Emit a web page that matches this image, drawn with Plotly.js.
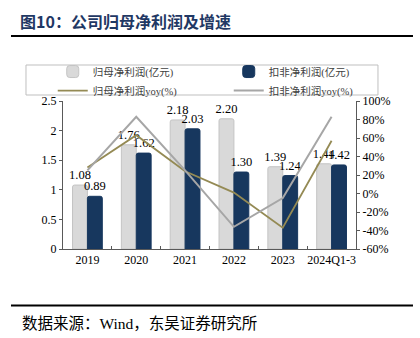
<!DOCTYPE html>
<html>
<head>
<meta charset="utf-8">
<script src="https://cdn.plot.ly/plotly-3.0.1.min.js"></script>
<style>html,body{margin:0;padding:0;background:#fff;}#chart{width:420px;height:338px;}</style>
</head>
<body>
<div id="chart"></div>
<script>
const categories = ["2019", "2020", "2021", "2022", "2023", "2024Q1-3"];
const netProfit = [1.08, 1.76, 2.18, 2.20, 1.39, 1.44];
const deductedProfit = [0.89, 1.62, 2.03, 1.30, 1.24, 1.42];
const netProfitYoy = [28, 63, 24, 1, -37, 57];
const deductedProfitYoy = [25, 83, 25, -36, -5, 83];
const leftTicks = [0, 0.5, 1, 1.5, 2, 2.5];
const rightTicks = [-60, -40, -20, 0, 20, 40, 60, 80, 100];

const FONT = "'Liberation Serif', 'Noto Sans CJK SC', serif";

const traces = [
  {
    type: 'bar', name: '归母净利润(亿元)', x: categories, y: netProfit,
    marker: {color: '#d9d9d9', line: {color: '#c4c4c4', width: 1}, cornerradius: 2},
    text: netProfit.map(v => v.toFixed(2)), textposition: 'outside',
    textfont: {family: FONT, size: 12.5, color: '#000'}, cliponaxis: false,
    constraintext: 'none', hoverinfo: 'skip'
  },
  {
    type: 'bar', name: '扣非净利润(亿元)', x: categories, y: deductedProfit,
    marker: {color: '#17375e', line: {color: '#17375e', width: 1}, cornerradius: 2},
    text: deductedProfit.map(v => v.toFixed(2)), textposition: 'outside',
    textfont: {family: FONT, size: 12.5, color: '#000'}, cliponaxis: false,
    constraintext: 'none', hoverinfo: 'skip'
  },
  {
    type: 'scatter', mode: 'lines', name: '归母净利润yoy(%)', x: categories, y: netProfitYoy,
    yaxis: 'y2', line: {color: '#948a54', width: 1.8}, hoverinfo: 'skip'
  },
  {
    type: 'scatter', mode: 'lines', name: '扣非净利润yoy(%)', x: categories, y: deductedProfitYoy,
    yaxis: 'y2', line: {color: '#a6a6a6', width: 2}, hoverinfo: 'skip'
  }
];

const layout = {
  width: 420, height: 338,
  margin: {l: 63, r: 64, t: 101, b: 89},
  paper_bgcolor: '#fff', plot_bgcolor: '#fff',
  font: {family: FONT, size: 12, color: '#000'},
  barmode: 'group', bargap: 0.39, bargroupgap: 0,
  showlegend: true,
  legend: {
    orientation: 'h', x: -0.035, xanchor: 'left', y: 1.297, yanchor: 'top',
    entrywidth: 131, entrywidthmode: 'pixels', tracegroupgap: 0,
    font: {family: FONT, size: 10.5, color: '#404040'},
    bgcolor: 'rgba(0,0,0,0)', borderwidth: 0, traceorder: 'normal'
  },
  title: {
    text: '<b>图10：公司归母净利润及增速</b>',
    x: 20/420, xanchor: 'left', xref: 'container',
    y: 1 - 22/338, yanchor: 'middle', yref: 'container',
    font: {family: "'Noto Sans CJK SC', 'Liberation Serif', serif", size: 16, color: '#1f3864'}
  },
  xaxis: {
    type: 'category', showline: true, linecolor: '#595959', linewidth: 1,
    ticks: 'inside', tickson: 'boundaries', ticklen: 3, tickcolor: '#595959',
    showgrid: false, zeroline: false, tickangle: 0,
    tickfont: {family: FONT, size: 12, color: '#000'}
  },
  yaxis: {
    range: [0, 2.5], tickvals: leftTicks, ticktext: leftTicks.map(String),
    showline: true, linecolor: '#595959', ticks: 'outside', ticklen: 3, tickcolor: '#595959',
    showgrid: false, zeroline: false,
    tickfont: {family: FONT, size: 12, color: '#000'}
  },
  yaxis2: {
    range: [-60, 100], overlaying: 'y', side: 'right',
    tickvals: rightTicks, ticktext: rightTicks.map(v => v + '%'),
    showline: true, linecolor: '#595959', ticks: 'outside', ticklen: 3, tickcolor: '#595959',
    showgrid: false, zeroline: false,
    tickfont: {family: FONT, size: 12, color: '#000'}
  },
  shapes: [
    {type: 'line', xref: 'paper', yref: 'paper', x0: -0.1775, x1: 1.1945, y0: 1.4392, y1: 1.4392,
     line: {color: '#000', width: 2}},
    {type: 'line', xref: 'paper', yref: 'paper', x0: -0.1775, x1: 1.1945, y0: -0.3818, y1: -0.3818,
     line: {color: '#000', width: 2}},
    {type: 'rect', xref: 'paper', yref: 'paper', x0: -0.1263, x1: 1.075, y0: 1.0405, y1: 1.2432,
     line: {color: '#bfbfbf', width: 1}, fillcolor: 'rgba(0,0,0,0)'}
  ],
  annotations: [
    {text: '数据来源：Wind，东吴证券研究所', xref: 'paper', yref: 'paper',
     x: -0.1468, y: -0.5, xanchor: 'left', yanchor: 'middle', showarrow: false,
     font: {family: FONT, size: 15.5, color: '#000'}}
  ]
};

Plotly.newPlot('chart', traces, layout, {staticPlot: true, displayModeBar: false});
</script>
</body>
</html>
